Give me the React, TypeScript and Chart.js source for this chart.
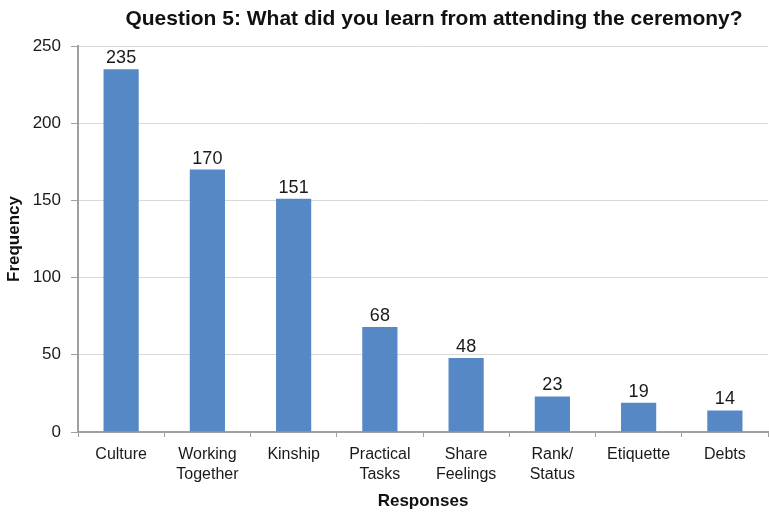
import React, { useEffect, useRef } from "react";
import { Chart, registerables } from "chart.js";

Chart.register(...registerables);

const categories: (string | string[])[] = [
  "Culture",
  ["Working", "Together"],
  "Kinship",
  ["Practical", "Tasks"],
  ["Share", "Feelings"],
  ["Rank/", "Status"],
  "Etiquette",
  "Debts",
];
const frequencies = [235, 170, 151, 68, 48, 23, 19, 14];
const yTicks = [0, 50, 100, 150, 200, 250];
const titleText = "Question 5: What did you learn from attending the ceremony?";

const FONT = "'Liberation Sans', Arial, Helvetica, sans-serif";

const valueLabels = {
  id: "valueLabels",
  afterDatasetsDraw(chart: any) {
    const ctx = chart.ctx;
    const meta = chart.getDatasetMeta(0);
    ctx.save();
    ctx.font = `18px ${FONT}`;
    ctx.fillStyle = "#1a1a1a";
    ctx.textAlign = "center";
    ctx.textBaseline = "alphabetic";
    meta.data.forEach((bar: any, i: number) => {
      ctx.fillText(String(frequencies[i]), bar.x, bar.y - 6);
    });
    ctx.restore();
  },
};

const customTitle = {
  id: "customTitle",
  afterDraw(chart: any) {
    const ctx = chart.ctx;
    ctx.save();
    ctx.font = `bold 21px ${FONT}`;
    ctx.fillStyle = "#111";
    ctx.textAlign = "center";
    ctx.textBaseline = "middle";
    ctx.fillText(titleText, 434, 19);
    ctx.restore();
  },
};

export default function App() {
  const ref = useRef<HTMLCanvasElement | null>(null);
  useEffect(() => {
    document.body.style.margin = "0";
    const chart = new Chart(ref.current!, {
      type: "bar",
      data: {
        labels: categories,
        datasets: [
          {
            data: frequencies,
            backgroundColor: "#5688C6",
            categoryPercentage: 0.8,
            barPercentage: 0.51,
          },
        ],
      },
      options: {
        animation: false,
        responsive: false,
        layout: { padding: { left: 0, right: 1, top: 46, bottom: 0 } },
        plugins: {
          legend: { display: false },
          tooltip: { enabled: false },
          title: { display: false },
        },
        scales: {
          x: {
            afterFit: (axis: any) => {
              axis.height = 81;
            },
            grid: {
              offset: true,
              drawOnChartArea: false,
              tickLength: 5,
              color: "#a0a0a0",
            },
            border: { color: "#a0a0a0", width: 2 },
            ticks: {
              font: { family: FONT, size: 16, lineHeight: 1.25 },
              color: "#1a1a1a",
              maxRotation: 0,
              autoSkip: false,
              padding: 8,
            },
            title: {
              display: true,
              text: "Responses",
              font: { family: FONT, size: 17, weight: "bold" },
              color: "#111",
              padding: { top: 0, bottom: 1 },
            },
          },
          y: {
            min: 0,
            max: 250,
            afterFit: (axis: any) => {
              axis.width = 78;
            },
            afterBuildTicks: (axis: any) => {
              axis.ticks = yTicks.map((v) => ({ value: v }));
            },
            grid: {
              color: "#d9d9d9",
              tickLength: 7,
              tickColor: "#a0a0a0",
            },
            border: { color: "#a0a0a0", width: 2 },
            ticks: {
              font: { family: FONT, size: 17 },
              color: "#1a1a1a",
              padding: 10,
            },
            title: {
              display: true,
              text: "Frequency",
              font: { family: FONT, size: 17, weight: "bold" },
              color: "#111",
              padding: { top: 4, bottom: 4 },
            },
          },
        },
      },
      plugins: [valueLabels, customTitle],
    });
    return () => chart.destroy();
  }, []);
  return <canvas ref={ref} width={769} height={513} style={{ display: "block" }} />;
}
